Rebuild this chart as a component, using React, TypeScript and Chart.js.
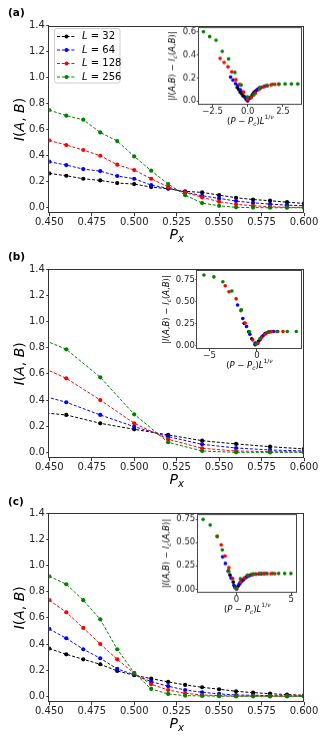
import React, { useEffect, useRef } from "react";
import { Chart, registerables } from "chart.js";

Chart.register(...registerables);

const FONT = "'DejaVu Sans', 'Liberation Sans', sans-serif";

const L_SIZES = ["32", "64", "128", "256"];
const COLORS = ["#000000", "#0000ff", "#ff0000", "#008000"];

const MAIN_X_TICKS = [0.45, 0.475, 0.5, 0.525, 0.55, 0.575, 0.6];
const MAIN_Y_TICKS = [0, 0.2, 0.4, 0.6, 0.8, 1.0, 1.2, 1.4];

// ---------- Panel (a) ----------
const PX_A = [0.45, 0.46, 0.47, 0.48, 0.49, 0.5, 0.51, 0.52, 0.53, 0.54, 0.55, 0.56, 0.57, 0.58, 0.59, 0.6];
const A_L32 = [0.264, 0.246, 0.223, 0.21, 0.19, 0.182, 0.159, 0.146, 0.126, 0.118, 0.097, 0.077, 0.063, 0.054, 0.043, 0.033];
const A_L64 = [0.354, 0.328, 0.297, 0.282, 0.244, 0.223, 0.174, 0.149, 0.12, 0.092, 0.072, 0.051, 0.038, 0.028, 0.02, 0.015];
const A_L128 = [0.518, 0.482, 0.444, 0.4, 0.331, 0.29, 0.223, 0.16, 0.118, 0.08, 0.046, 0.026, 0.015, 0.008, 0.003, 0.003];
const A_L256 = [0.751, 0.708, 0.677, 0.579, 0.513, 0.395, 0.285, 0.182, 0.097, 0.036, 0.015, 0.003, 0.001, 0.0, 0.0, 0.0];

const IA_L32_X = [-0.75, -0.65, -0.54, -0.43, -0.33, -0.22, -0.11, -0.01, 0.1, 0.21, 0.32, 0.42, 0.53, 0.64, 0.74, 0.85];
const IA_L32_Y = [0.117, 0.099, 0.076, 0.063, 0.043, 0.035, 0.012, 0.001, 0.021, 0.029, 0.05, 0.07, 0.084, 0.093, 0.104, 0.114];
const IA_L64_X = [-1.22, -1.05, -0.87, -0.7, -0.53, -0.36, -0.18, -0.01, 0.16, 0.34, 0.51, 0.68, 0.86, 1.03, 1.2, 1.38];
const IA_L64_Y = [0.207, 0.181, 0.15, 0.135, 0.097, 0.076, 0.027, 0.002, 0.027, 0.055, 0.075, 0.096, 0.109, 0.119, 0.127, 0.132];
const IA_L128_X = [-1.96, -1.68, -1.4, -1.13, -0.85, -0.57, -0.29, -0.01, 0.26, 0.54, 0.82, 1.1, 1.38, 1.65, 1.93, 2.21];
const IA_L128_Y = [0.371, 0.335, 0.297, 0.253, 0.184, 0.143, 0.076, 0.013, 0.029, 0.067, 0.101, 0.121, 0.132, 0.139, 0.144, 0.144];
const IA_L256_X = [-3.14, -2.7, -2.25, -1.81, -1.36, -0.91, -0.47, -0.02, 0.42, 0.87, 1.32, 1.76, 2.21, 2.65, 3.1, 3.55];
const IA_L256_Y = [0.604, 0.561, 0.53, 0.432, 0.366, 0.248, 0.138, 0.035, 0.05, 0.111, 0.132, 0.144, 0.147, 0.147, 0.147, 0.147];

// ---------- Panel (b) ----------
const PX_B = [0.44, 0.46, 0.48, 0.5, 0.52, 0.54, 0.56, 0.58, 0.6];
const B_L32 = [0.31, 0.286, 0.222, 0.176, 0.133, 0.089, 0.064, 0.043, 0.026];
const B_L64 = [0.453, 0.383, 0.286, 0.196, 0.12, 0.061, 0.033, 0.018, 0.01];
const B_L128 = [0.684, 0.566, 0.4, 0.222, 0.1, 0.031, 0.01, 0.005, 0.003];
const B_L256 = [0.896, 0.788, 0.574, 0.291, 0.077, 0.01, 0.0, 0.0, 0.0];

const IB_L32_X = [-1.35, -0.88, -0.55, -0.2, 0.15, 0.5, 0.85, 1.2];
const IB_L32_Y = [0.255, 0.16, 0.08, 0.012, 0.05, 0.1, 0.14, 0.155];
const IB_L64_X = [-2.05, -1.5, -1.1, -0.75, -0.2, 0.05, 0.35, 0.65, 1.0, 1.4, 1.75];
const IB_L64_Y = [0.465, 0.31, 0.22, 0.13, 0.03, 0.025, 0.07, 0.115, 0.145, 0.16, 0.162];
const IB_L128_X = [-3.35, -2.95, -2.2, -1.7, -1.25, -0.45, 0.1, 0.45, 0.85, 1.5, 2.1, 2.75];
const IB_L128_Y = [0.685, 0.615, 0.535, 0.4, 0.26, 0.065, 0.03, 0.09, 0.13, 0.16, 0.163, 0.163];
const IB_L256_X = [-5.6, -4.55, -3.6, -2.65, -1.65, -0.8, -0.1, 0.3, 1.15, 2.2, 3.2, 4.15];
const IB_L256_Y = [0.807, 0.785, 0.73, 0.625, 0.41, 0.16, 0.02, 0.08, 0.15, 0.162, 0.162, 0.162];

// ---------- Panel (c) ----------
const PX_C = [0.45, 0.46, 0.47, 0.48, 0.49, 0.5, 0.51, 0.52, 0.53, 0.54, 0.55, 0.56, 0.57, 0.58, 0.59, 0.6];
const C_L32 = [0.365, 0.321, 0.283, 0.245, 0.194, 0.161, 0.135, 0.11, 0.087, 0.069, 0.054, 0.038, 0.028, 0.02, 0.013, 0.008];
const C_L64 = [0.515, 0.444, 0.36, 0.291, 0.209, 0.166, 0.112, 0.077, 0.048, 0.031, 0.018, 0.01, 0.008, 0.005, 0.003, 0.002];
const C_L128 = [0.735, 0.643, 0.523, 0.4, 0.283, 0.176, 0.092, 0.048, 0.023, 0.01, 0.005, 0.002, 0.002, 0.001, 0.001, 0.001];
const C_L256 = [0.918, 0.857, 0.735, 0.589, 0.36, 0.179, 0.056, 0.018, 0.005, 0.003, 0.001, 0.0, 0.0, 0.0, 0.0, 0.0];

const IC_L32_X = [-0.75, -0.6, -0.45, -0.3, -0.15, 0.0, 0.15, 0.3, 0.45, 0.6, 0.75, 0.9, 1.05, 1.2, 1.35, 1.5];
const IC_L32_Y = [0.197, 0.153, 0.115, 0.077, 0.026, 0.007, 0.033, 0.058, 0.081, 0.099, 0.114, 0.13, 0.14, 0.148, 0.155, 0.16];
const IC_L64_X = [-1.27, -1.02, -0.76, -0.51, -0.25, 0.0, 0.25, 0.51, 0.76, 1.02, 1.27, 1.53, 1.78, 2.04, 2.29, 2.55];
const IC_L64_Y = [0.347, 0.276, 0.192, 0.123, 0.041, 0.002, 0.056, 0.091, 0.12, 0.137, 0.15, 0.158, 0.16, 0.163, 0.165, 0.166];
const IC_L128_X = [-1.75, -1.4, -1.05, -0.7, -0.35, 0.0, 0.35, 0.7, 1.05, 1.4, 1.75, 2.1, 2.45, 2.8, 3.15, 3.5];
const IC_L128_Y = [0.567, 0.475, 0.355, 0.232, 0.115, 0.008, 0.076, 0.12, 0.145, 0.158, 0.163, 0.166, 0.167, 0.167, 0.167, 0.167];
const IC_L256_X = [-3.06, -2.41, -1.79, -1.3, -0.71, -0.12, 0.35, 0.99, 1.55, 2.15, 2.72, 3.3, 3.85, 4.4, 4.97];
const IC_L256_Y = [0.75, 0.689, 0.567, 0.421, 0.192, 0.011, 0.112, 0.15, 0.163, 0.165, 0.168, 0.168, 0.168, 0.168, 0.168];

// ---------- helpers ----------
type Area = { l: number; t: number; r: number; b: number };
type Run = { t: string; it?: boolean; s?: number; dy?: number };

function drawRuns(ctx: CanvasRenderingContext2D, runs: Run[], size: number, x: number, y: number, rotate: boolean) {
  ctx.save();
  ctx.translate(x, y);
  if (rotate) ctx.rotate(-Math.PI / 2);
  ctx.textBaseline = "middle";
  ctx.textAlign = "left";
  ctx.fillStyle = "#000";
  const fontOf = (r: Run) => `${r.it ? "italic " : ""}${(r.s ?? 1) * size}px ${FONT}`;
  let w = 0;
  for (const r of runs) {
    ctx.font = fontOf(r);
    w += ctx.measureText(r.t).width;
  }
  let cx = -w / 2;
  for (const r of runs) {
    ctx.font = fontOf(r);
    ctx.fillText(r.t, cx, (r.dy ?? 0) * size);
    cx += ctx.measureText(r.t).width;
  }
  ctx.restore();
}

const Y_TITLE: Run[] = [{ t: "I", it: true }, { t: "(" }, { t: "A", it: true }, { t: ", " }, { t: "B", it: true }, { t: ")" }];
const X_TITLE: Run[] = [{ t: "P", it: true }, { t: "x", it: true, s: 0.72, dy: 0.3 }];
const INSET_Y: Run[] = [
  { t: "|" }, { t: "I", it: true }, { t: "(" }, { t: "A", it: true }, { t: "," }, { t: "B", it: true }, { t: ")" },
  { t: " \u2212 " }, { t: "I", it: true }, { t: "c", it: true, s: 0.7, dy: 0.3 }, { t: "(" }, { t: "A", it: true },
  { t: "," }, { t: "B", it: true }, { t: ")" }, { t: "|" },
];
const INSET_X: Run[] = [
  { t: "(" }, { t: "P", it: true }, { t: " \u2212 " }, { t: "P", it: true }, { t: "c", it: true, s: 0.7, dy: 0.3 },
  { t: ")" }, { t: "L", it: true }, { t: "1/", s: 0.7, dy: -0.45 }, { t: "\u03bd", it: true, s: 0.7, dy: -0.45 },
];

const fmt = (v: number, d: number) => (v < 0 ? "\u2212" + Math.abs(v).toFixed(d) : Math.abs(v).toFixed(d));

type Inset = {
  area: Area; // page coordinates
  xMin: number; xMax: number; yMin: number; yMax: number;
  xTicks: number[]; xDec: number; yTicks: number[]; yDec: number;
  xs: number[][]; ys: number[][]; yTitleX: number;
};
type Panel = {
  label: string; top: number; height: number; labelTop: number;
  xs: number[]; ys: number[][]; yMin: number; area: Area; legend: boolean; inset: Inset;
};

const PANELS: Panel[] = [
  {
    label: "(a)", top: 0, height: 248, labelTop: 7, xs: PX_A, ys: [A_L32, A_L64, A_L128, A_L256],
    yMin: -0.042, area: { l: 49.3, t: 25.7, r: 304, b: 213.2 }, legend: true,
    inset: {
      area: { l: 198.7, t: 27, r: 302, b: 104.7 }, xMin: -3.48, xMax: 3.85, yMin: -0.035, yMax: 0.644,
      xTicks: [-2.5, 0, 2.5], xDec: 1, yTicks: [0, 0.2, 0.4, 0.6], yDec: 1,
      xs: [IA_L32_X, IA_L64_X, IA_L128_X, IA_L256_X], ys: [IA_L32_Y, IA_L64_Y, IA_L128_Y, IA_L256_Y], yTitleX: 173,
    },
  },
  {
    label: "(b)", top: 248, height: 248, labelTop: 251, xs: PX_B, ys: [B_L32, B_L64, B_L128, B_L256],
    yMin: -0.045, area: { l: 49.3, t: 269.3, r: 304, b: 458.2 }, legend: false,
    inset: {
      area: { l: 197.3, t: 270, r: 301.5, b: 349.3 }, xMin: -6.3, xMax: 4.7, yMin: -0.0375, yMax: 0.864,
      xTicks: [-5, 0], xDec: 0, yTicks: [0, 0.25, 0.5, 0.75], yDec: 2,
      xs: [IB_L32_X, IB_L64_X, IB_L128_X, IB_L256_X], ys: [IB_L32_Y, IB_L64_Y, IB_L128_Y, IB_L256_Y], yTitleX: 167,
    },
  },
  {
    label: "(c)", top: 496, height: 250, labelTop: 495.5, xs: PX_C, ys: [C_L32, C_L64, C_L128, C_L256],
    yMin: -0.046, area: { l: 49.3, t: 513.3, r: 304, b: 702.3 }, legend: false,
    inset: {
      area: { l: 197.7, t: 514, r: 296.7, b: 592.7 }, xMin: -3.55, xMax: 5.5, yMin: -0.04, yMax: 0.807,
      xTicks: [0, 5], xDec: 0, yTicks: [0, 0.25, 0.5, 0.75], yDec: 2,
      xs: [IC_L32_X, IC_L64_X, IC_L128_X, IC_L256_X], ys: [IC_L32_Y, IC_L64_Y, IC_L128_Y, IC_L256_Y], yTitleX: 167,
    },
  },
];

const INSET_LEFT = 150;
const INSET_W = 160;
const insetTop = (p: Panel) => p.inset.area.t - 12;
const insetH = (p: Panel) => p.inset.area.b - p.inset.area.t + 36;

function frame(chart: any, color: string) {
  const { left, top, right, bottom } = chart.chartArea;
  const ctx = chart.ctx as CanvasRenderingContext2D;
  ctx.save();
  ctx.strokeStyle = color;
  ctx.lineWidth = 1;
  ctx.strokeRect(Math.round(left) - 0.5, Math.round(top) + 0.5, Math.round(right) - Math.round(left), Math.round(bottom) - Math.round(top) - 1);
  ctx.restore();
}

function drawLegend(ctx: CanvasRenderingContext2D) {
  ctx.save();
  ctx.fillStyle = "rgba(255,255,255,0.85)";
  ctx.strokeStyle = "#cccccc";
  ctx.lineWidth = 1;
  ctx.beginPath();
  (ctx as any).roundRect(54.5, 28.5, 65.5, 54.5, 2.5);
  ctx.fill();
  ctx.stroke();
  const rows = [36.5, 50, 63.5, 77];
  rows.forEach((y, i) => {
    ctx.strokeStyle = COLORS[i];
    ctx.fillStyle = COLORS[i];
    ctx.lineWidth = 1;
    ctx.setLineDash([3, 1.8]);
    ctx.beginPath();
    ctx.moveTo(57, y);
    ctx.lineTo(76, y);
    ctx.stroke();
    ctx.setLineDash([]);
    ctx.beginPath();
    ctx.arc(66.5, y, 2, 0, Math.PI * 2);
    ctx.fill();
    ctx.fillStyle = "#000";
    ctx.textBaseline = "middle";
    ctx.font = `italic 10px ${FONT}`;
    ctx.fillText("L", 82, y);
    const lw = ctx.measureText("L").width;
    ctx.font = `10px ${FONT}`;
    ctx.fillText(" = " + L_SIZES[i], 82 + lw, y);
  });
  ctx.restore();
}

function makeMain(canvas: HTMLCanvasElement, p: Panel) {
  const a = { l: p.area.l, t: p.area.t - p.top, r: p.area.r, b: p.area.b - p.top };
  const W = 331;
  const H = p.height;
  const plugin = {
    id: "mainDecor",
    afterDraw(chart: any) {
      const ctx = chart.ctx as CanvasRenderingContext2D;
      frame(chart, "#333");
      const ca = chart.chartArea;
      drawRuns(ctx, Y_TITLE, 14, 20, (ca.top + ca.bottom) / 2, true);
      drawRuns(ctx, X_TITLE, 14, (ca.left + ca.right) / 2, ca.bottom + 22, false);
      if (p.legend) drawLegend(ctx);
    },
  };
  return new Chart(canvas, {
    type: "scatter",
    data: {
      datasets: p.ys.map((ys, i) => ({
        label: "L = " + L_SIZES[i],
        data: p.xs.map((x, j) => ({ x, y: ys[j] })),
        showLine: true,
        borderColor: COLORS[i],
        backgroundColor: COLORS[i],
        borderWidth: 1,
        borderDash: [3, 1.8],
        pointRadius: 2.1,
        pointBorderWidth: 0,
        pointHoverRadius: 2.1,
        order: 4 - i,
        clip: 0,
      })),
    } as any,
    options: {
      responsive: false,
      animation: false,
      devicePixelRatio: 1,
      events: [],
      layout: { autoPadding: false, padding: { left: 0, top: a.t, right: W - a.r, bottom: 0 } },
      plugins: { legend: { display: false }, tooltip: { enabled: false } },
      scales: {
        x: {
          type: "linear",
          min: 0.45,
          max: 0.6,
          afterBuildTicks: (s: any) => { s.ticks = MAIN_X_TICKS.map((v) => ({ value: v })); },
          afterFit: (s: any) => { s.height = H - a.b; },
          ticks: { callback: (v: any) => Number(v).toFixed(3), font: { family: FONT, size: 10 }, color: "#222", padding: 0, autoSkip: false, maxRotation: 0 },
          grid: { drawOnChartArea: false, drawTicks: true, tickLength: 3, color: "#333", lineWidth: 1 },
          border: { display: false },
        },
        y: {
          type: "linear",
          min: p.yMin,
          max: 1.4,
          afterBuildTicks: (s: any) => { s.ticks = MAIN_Y_TICKS.map((v) => ({ value: v })); },
          afterFit: (s: any) => { s.width = a.l; },
          ticks: { callback: (v: any) => Number(v).toFixed(1), font: { family: FONT, size: 10 }, color: "#222", padding: 1.5, autoSkip: false },
          grid: { drawOnChartArea: false, drawTicks: true, tickLength: 3, color: "#333", lineWidth: 1 },
          border: { display: false },
        },
      },
    } as any,
    plugins: [plugin],
  });
}

function makeInset(canvas: HTMLCanvasElement, p: Panel) {
  const ins = p.inset;
  const top0 = insetTop(p);
  const H = insetH(p);
  const a = { l: ins.area.l - INSET_LEFT, t: ins.area.t - top0, r: ins.area.r - INSET_LEFT, b: ins.area.b - top0 };
  const plugin = {
    id: "insetDecor",
    beforeDraw(chart: any) {
      const ca = chart.chartArea;
      const ctx = chart.ctx as CanvasRenderingContext2D;
      ctx.save();
      ctx.fillStyle = "#fff";
      ctx.fillRect(ca.left, ca.top, ca.right - ca.left, ca.bottom - ca.top);
      ctx.restore();
    },
    afterDraw(chart: any) {
      const ctx = chart.ctx as CanvasRenderingContext2D;
      frame(chart, "#444");
      const ca = chart.chartArea;
      drawRuns(ctx, INSET_Y, 8.5, ins.yTitleX - INSET_LEFT, (ca.top + ca.bottom) / 2, true);
      drawRuns(ctx, INSET_X, 8.5, (ca.left + ca.right) / 2, ca.bottom + 16.5, false);
    },
  };
  return new Chart(canvas, {
    type: "scatter",
    data: {
      datasets: ins.xs.map((xs, i) => ({
        label: "L = " + L_SIZES[i],
        data: xs.map((x, j) => ({ x, y: ins.ys[i][j] })),
        showLine: false,
        backgroundColor: COLORS[i],
        borderColor: COLORS[i],
        pointRadius: 1.8,
        pointBorderWidth: 0,
        pointHoverRadius: 1.8,
        order: 4 - i,
      })),
    } as any,
    options: {
      responsive: false,
      animation: false,
      devicePixelRatio: 1,
      events: [],
      layout: { autoPadding: false, padding: { left: 0, top: a.t, right: INSET_W - a.r, bottom: 0 } },
      plugins: { legend: { display: false }, tooltip: { enabled: false } },
      scales: {
        x: {
          type: "linear",
          min: ins.xMin,
          max: ins.xMax,
          afterBuildTicks: (s: any) => { s.ticks = ins.xTicks.map((v) => ({ value: v })); },
          afterFit: (s: any) => { s.height = H - a.b; },
          ticks: { callback: (v: any) => fmt(Number(v), ins.xDec), font: { family: FONT, size: 8.5 }, color: "#222", padding: 0, autoSkip: false, maxRotation: 0 },
          grid: { drawOnChartArea: false, drawTicks: true, tickLength: 2, color: "#444", lineWidth: 1 },
          border: { display: false },
        },
        y: {
          type: "linear",
          min: ins.yMin,
          max: ins.yMax,
          afterBuildTicks: (s: any) => { s.ticks = ins.yTicks.map((v) => ({ value: v })); },
          afterFit: (s: any) => { s.width = a.l; },
          ticks: { callback: (v: any) => fmt(Number(v), ins.yDec), font: { family: FONT, size: 8.5 }, color: "#222", padding: 0.5, autoSkip: false },
          grid: { drawOnChartArea: false, drawTicks: true, tickLength: 2, color: "#444", lineWidth: 1 },
          border: { display: false },
        },
      },
    } as any,
    plugins: [plugin],
  });
}

export default function App() {
  const mainRefs = useRef<(HTMLCanvasElement | null)[]>([]);
  const insetRefs = useRef<(HTMLCanvasElement | null)[]>([]);

  useEffect(() => {
    const charts: Chart[] = [];
    PANELS.forEach((p, i) => {
      const m = mainRefs.current[i];
      const n = insetRefs.current[i];
      if (m) charts.push(makeMain(m, p));
      if (n) charts.push(makeInset(n, p));
    });
    return () => charts.forEach((c) => c.destroy());
  }, []);

  return (
    <div style={{ position: "fixed", left: 0, top: 0, width: 331, height: 746, background: "#fff", overflow: "hidden" }}>
      {PANELS.map((p, i) => (
        <React.Fragment key={p.label}>
          <canvas
            ref={(el) => { mainRefs.current[i] = el; }}
            width={331}
            height={p.height}
            style={{ position: "absolute", left: 0, top: p.top, width: 331, height: p.height }}
          />
          <canvas
            ref={(el) => { insetRefs.current[i] = el; }}
            width={INSET_W}
            height={insetH(p)}
            style={{ position: "absolute", left: INSET_LEFT, top: insetTop(p), width: INSET_W, height: insetH(p) }}
          />
          <div style={{ position: "absolute", left: 8, top: p.labelTop, font: `bold 10.5px ${FONT}`, lineHeight: 1, color: "#000" }}>
            {p.label}
          </div>
        </React.Fragment>
      ))}
    </div>
  );
}
